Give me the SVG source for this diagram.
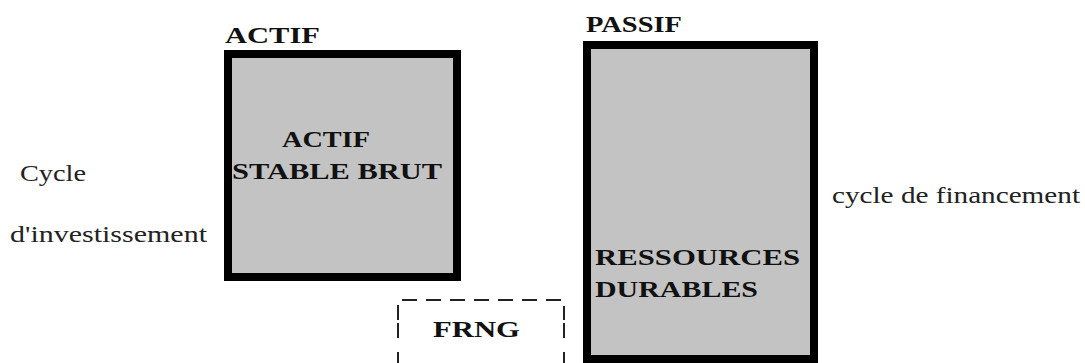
<svg xmlns="http://www.w3.org/2000/svg" width="1085" height="363" viewBox="0 0 1085 363">
<style>
.box{fill:#c3c3c3;stroke:#000;stroke-width:8}
.b{font-family:"Liberation Serif","Times New Roman","DejaVu Serif",serif;font-weight:bold;font-size:24px;fill:#111}
.r{font-family:"Liberation Serif","Times New Roman","DejaVu Serif",serif;font-size:23px;fill:#222}
</style>
<rect width="1085" height="363" fill="#fff"/>
<g id="actif">
<text class="b" x="225" y="43" textLength="95" lengthAdjust="spacingAndGlyphs">ACTIF</text>
<rect class="box" x="228" y="54" width="229" height="223"/>
<text class="b" x="282" y="147" textLength="88" lengthAdjust="spacingAndGlyphs">ACTIF</text>
<text class="b" x="232" y="179" textLength="210" lengthAdjust="spacingAndGlyphs">STABLE BRUT</text>
</g>
<g id="passif">
<text class="b" x="586" y="32" textLength="96" lengthAdjust="spacingAndGlyphs">PASSIF</text>
<rect class="box" x="587" y="45" width="227" height="314"/>
<text class="b" x="595" y="265" textLength="205" lengthAdjust="spacingAndGlyphs">RESSOURCES</text>
<text class="b" x="595" y="297" textLength="163" lengthAdjust="spacingAndGlyphs">DURABLES</text>
</g>
<g id="frng">
<path d="M398 320 V300 H564 V320 M398 323 V340 M564 323 V340 M398 352 V370 M564 352 V370" fill="none" stroke="#222" stroke-width="2" stroke-dasharray="15,9"/>
<text class="b" x="433" y="337" textLength="87" lengthAdjust="spacingAndGlyphs">FRNG</text>
</g>
<g id="labels">
<text class="r" x="20" y="181" textLength="66" lengthAdjust="spacingAndGlyphs">Cycle</text>
<text class="r" x="10" y="242" textLength="197" lengthAdjust="spacingAndGlyphs">d'investissement</text>
<text class="r" x="832" y="203" textLength="248" lengthAdjust="spacingAndGlyphs">cycle de financement</text>
</g>
<g id="connectors"></g>
</svg>
